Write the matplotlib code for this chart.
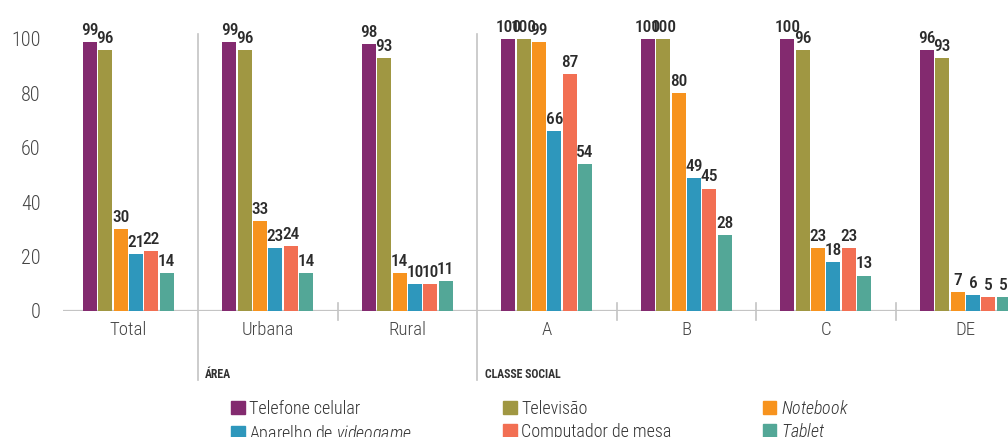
import numpy as np
import matplotlib
matplotlib.use("Agg")
import matplotlib.pyplot as plt
from matplotlib.patches import Patch

FONT = ['Roboto Condensed', 'DejaVu Sans']
plt.rcParams['font.family'] = FONT
plt.rcParams['mathtext.fontset'] = 'custom'
plt.rcParams['mathtext.it'] = 'Roboto Condensed:italic:light'
plt.rcParams['mathtext.rm'] = 'Roboto Condensed:light'

## data
categories = ["Total", "Urbana", "Rural", "A", "B", "C", "DE"]
series_names = ["Telefone celular", "Televisão", r"$\it{Notebook}$",
                r"Aparelho de $\it{videogame}$", "Computador de mesa", r"$\it{Tablet}$"]
telefone = [99, 99, 98, 100, 100, 100, 96]
televisao = [96, 96, 93, 100, 100, 96, 93]
notebook = [30, 33, 14, 99, 80, 23, 7]
videogame = [21, 23, 10, 66, 49, 18, 6]
computador = [22, 24, 10, 87, 45, 23, 5]
tablet = [14, 14, 11, 54, 28, 13, 5]
yticks = [0, 20, 40, 60, 80, 100]

colors = ["#832A6F", "#A09742", "#F7931E", "#2E97BC", "#F26F53", "#53A797"]
series = [telefone, televisao, notebook, videogame, computador, tablet]

W, H = 1008, 437
fig = plt.figure(figsize=(W / 100, H / 100), dpi=100)
ax = fig.add_axes([63 / W, 126 / H, (W - 63) / W, 311 / H])

x = np.arange(len(categories))
step, width = 0.110, 0.100
handles = []
for k, (vals, col, name) in enumerate(zip(series, colors, series_names)):
    b = ax.bar(x + (k - 2.5) * step, vals, width, color=col, zorder=3)
    ax.bar_label(b, labels=[str(v) for v in vals], padding=3, fontsize=12.5,
                 color="#2b2b2b", fontweight="medium")
    handles.append(Patch(color=col, label=name))

ax.set_xlim(-0.468, -0.468 + 945 / 139.5)
ax.set_ylim(0, 311 / 2.72)

# baseline and separators
gray = "#c4c4c4"
ax.axhline(0, color=gray, lw=1.6, zorder=2)
for sx in [0.5, 2.5]:
    ax.plot([sx, sx], [102, -25.5], color=gray, lw=1.2, clip_on=False)
for sx in [1.5, 3.5, 4.5, 5.5]:
    ax.plot([sx, sx], [3, -3.3], color=gray, lw=1.2, clip_on=False)

# category labels
for i, c in enumerate(categories):
    ax.text(i, -7, c, ha="center", va="center", fontsize=13.5, color="#444444",
            fontweight="light")

ax.text(0.548, -23.5, "ÁREA", ha="left", va="center", fontsize=8.5,
        fontweight="bold", color="#333333")
ax.text(2.555, -23.5, "CLASSE SOCIAL", ha="left", va="center", fontsize=8.5,
        fontweight="bold", color="#333333")

ax.set_yticks(yticks)
ax.set_yticklabels([str(t) for t in yticks], fontsize=14.5, color="#444444",
                   fontweight="light")
ax.tick_params(axis="y", length=0, pad=16)
ax.set_xticks([])
for s in ax.spines.values():
    s.set_visible(False)

order = [0, 3, 1, 4, 2, 5]
leg = fig.legend([handles[i] for i in order], [series_names[i] for i in order],
                 ncol=3, loc="upper left", bbox_to_anchor=(231 / W, 1 - 400 / H),
                 frameon=False, fontsize=13, handlelength=0.75, handleheight=0.75,
                 handletextpad=0.25, labelspacing=0.25, columnspacing=5.05,
                 borderpad=0, borderaxespad=0, labelcolor="#333333")
for t in leg.get_texts():
    t.set_fontweight("light")

fig.savefig("out.png", dpi=100)
